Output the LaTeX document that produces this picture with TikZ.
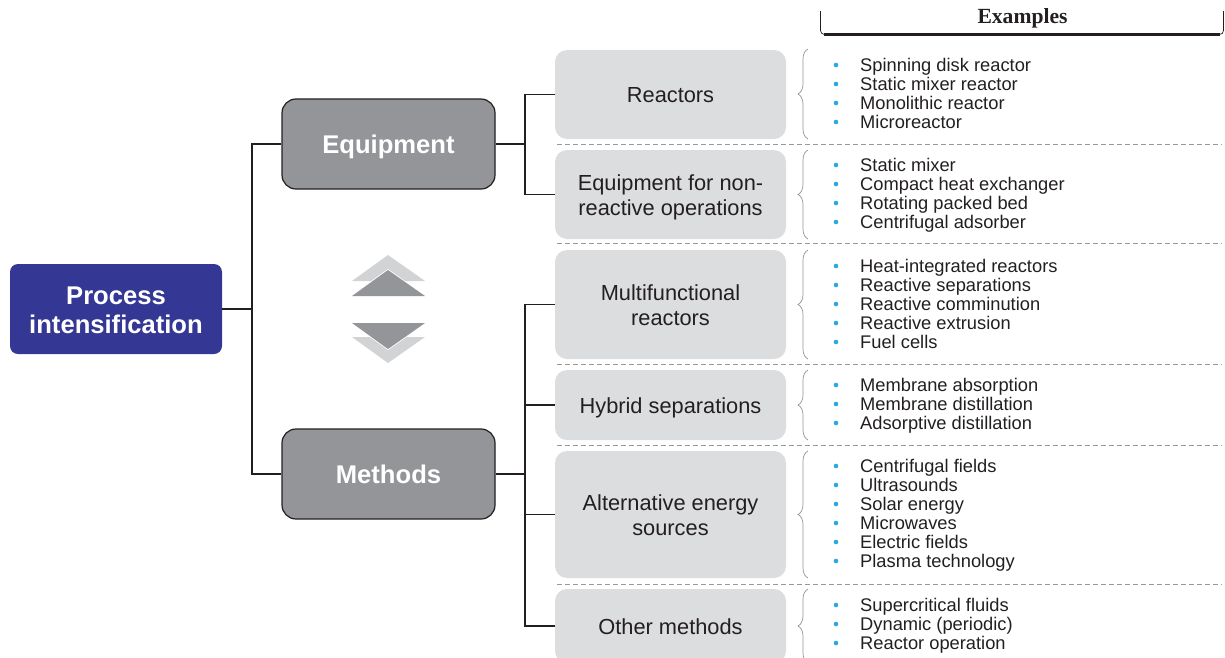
\documentclass[tikz,border=0pt]{standalone}
\usepackage{fontspec}
\setmainfont{Liberation Sans}
\newfontfamily\serifex{Liberation Serif}
\usetikzlibrary{decorations.pathreplacing}
\definecolor{navy}{HTML}{353795}
\definecolor{dgray}{HTML}{939598}
\definecolor{lgray}{HTML}{DCDDDF}
\definecolor{tri}{HTML}{D1D3D4}
\definecolor{ink}{HTML}{231F20}
\definecolor{bul}{HTML}{27AAE1}
\tikzset{
  rootbox/.style={fill=navy,rounded corners=8pt,inner sep=0pt},
  roottext/.style={text=white,font=\fontsize{25.6}{29}\selectfont\bfseries,align=center,inner sep=0pt},
  midbox/.style={draw=ink,line width=1.2pt,fill=dgray,rounded corners=14pt,inner sep=0pt},
  midtext/.style={text=white,font=\fontsize{25.6}{30}\selectfont\bfseries,inner sep=0pt},
  leafbox/.style={fill=lgray,rounded corners=12pt,inner sep=0pt},
  leaftext/.style={text=ink,font=\fontsize{21.8}{25.5}\selectfont,align=center,inner sep=0pt},
  conn/.style={draw=ink,line width=1.2pt},
  sep/.style={draw=gray!80,line width=0.9pt,dash pattern=on 5pt off 3pt},
  bracegr/.style={draw=gray!85,line width=0.7pt,decorate,decoration={brace,amplitude=10pt,aspect=0.5}},
  extext/.style={text=ink,font=\fontsize{18.3}{19}\selectfont,anchor=base west,inner sep=0pt},
  exdot/.style={circle,fill=bul,inner sep=0pt,minimum size=4.6pt}
}
\newcounter{exn}
\newcommand{\exitem}[2]{\stepcounter{exn}%
  \node[exdot] (d\theexn) at (836,#1) {};
  \node[extext] (e\theexn) at (860,#1+6.5) {#2};}
\begin{document}
\begin{tikzpicture}[x=1pt,y=-1pt]
\useasboundingbox (0,0) rectangle (1225,657);
\clip (0,0) rectangle (1225,657);
% boxes
\node[rootbox,minimum width=212pt,minimum height=90pt] (proc) at (116,309) {};
\node[midbox,minimum width=213pt,minimum height=90pt] (equip) at (388.5,144) {};
\node[midbox,minimum width=213pt,minimum height=90pt] (meth) at (388.5,474) {};
\node[leafbox,minimum width=231pt,minimum height=89pt] (l1) at (670.5,94.5) {};
\node[leafbox,minimum width=231pt,minimum height=89pt] (l2) at (670.5,194.5) {};
\node[leafbox,minimum width=231pt,minimum height=109pt] (l3) at (670.5,304.5) {};
\node[leafbox,minimum width=231pt,minimum height=70pt] (l4) at (670.5,405) {};
\node[leafbox,minimum width=231pt,minimum height=127pt] (l5) at (670.5,514.5) {};
\node[leafbox,minimum width=231pt,minimum height=74pt] (l6) at (670.5,626) {};
% box texts
\node[roottext] (tproc) at (116,310.5) {Process\\intensification};
\node[midtext] (tequip) at (388.5,147) {Equipment};
\node[midtext] (tmeth) at (388.5,474) {Methods};
\node[leaftext] (tl1) at (670.5,95.5) {Reactors};
\node[leaftext] (tl2) at (670.5,197.5) {Equipment for non-\\reactive operations};
\node[leaftext] (tl3) at (670.5,305) {Multifunctional\\reactors};
\node[leaftext] (tl4) at (670.5,407.5) {Hybrid separations};
\node[leaftext] (tl5) at (670.5,515) {Alternative energy\\sources};
\node[leaftext] (tl6) at (670.5,626.5) {Other methods};
% connectors
\coordinate (t1) at (252,309);
\coordinate (t2) at (525,144);
\coordinate (t3) at (525,474);
\draw[conn] (proc.east) -- (t1);
\draw[conn] (equip.west) -| (t1);
\draw[conn] (meth.west) -| (t1);
\draw[conn] (equip.east) -- (t2);
\draw[conn] (meth.east) -- (t3);
\draw[conn] (l1.west) -| (t2);
\draw[conn] (l2.west) -| (t2);
\draw[conn] (l3.west) -| (t3);
\draw[conn] (l4.west) -| (t3);
\draw[conn] (l5.west) -| (t3);
\draw[conn] (l6.west) -| (t3);
% triangles
\fill[tri] (388,255) -- (425,281) -- (352,281) -- cycle;
\draw[white,line width=1.6pt,line join=miter] (352,296) -- (388,270) -- (425,296);
\fill[dgray] (388,270) -- (425,296) -- (352,296) -- cycle;
\fill[tri] (388,363) -- (425,337) -- (352,337) -- cycle;
\draw[white,line width=1.6pt,line join=miter] (352,323) -- (388,349) -- (425,323);
\fill[dgray] (388,349) -- (425,323) -- (352,323) -- cycle;
% separators
\foreach \yy in {144.5,243,364.5,445,584} \draw[sep] (557,\yy) -- (1222,\yy);
% braces
\draw[bracegr] (808,139) -- (808,49);
\draw[bracegr] (808,239) -- (808,150);
\draw[bracegr] (808,359) -- (808,250);
\draw[bracegr] (808,440) -- (808,370);
\draw[bracegr] (808,578) -- (808,451);
\draw[bracegr] (808,663) -- (808,589);
% examples header
\node[text=ink,font=\serifex\fontsize{21.6}{24}\selectfont\bfseries,inner sep=0pt,anchor=base] (exh) at (1022.5,23) {Examples};
\draw[ink,line width=0.7pt,rounded corners=4pt] (820.5,11) -- (820.5,34.5) -- (1223.5,34.5) -- (1223.5,11);
\draw[ink,line width=3pt] (824,34.5) -- (1220,34.5);
% example lists
\exitem{65}{Spinning disk reactor}
\exitem{84}{Static mixer reactor}
\exitem{103}{Monolithic reactor}
\exitem{122}{Microreactor}
\exitem{165}{Static mixer}
\exitem{184}{Compact heat exchanger}
\exitem{203}{Rotating packed bed}
\exitem{222}{Centrifugal adsorber}
\exitem{266}{Heat-integrated reactors}
\exitem{285}{Reactive separations}
\exitem{304}{Reactive comminution}
\exitem{323}{Reactive extrusion}
\exitem{342}{Fuel cells}
\exitem{385}{Membrane absorption}
\exitem{404}{Membrane distillation}
\exitem{423}{Adsorptive distillation}
\exitem{466}{Centrifugal fields}
\exitem{485}{Ultrasounds}
\exitem{504}{Solar energy}
\exitem{523}{Microwaves}
\exitem{542}{Electric fields}
\exitem{561}{Plasma technology}
\exitem{605}{Supercritical fluids}
\exitem{624}{Dynamic (periodic)}
\exitem{643}{Reactor operation}
\end{tikzpicture}
\end{document}
